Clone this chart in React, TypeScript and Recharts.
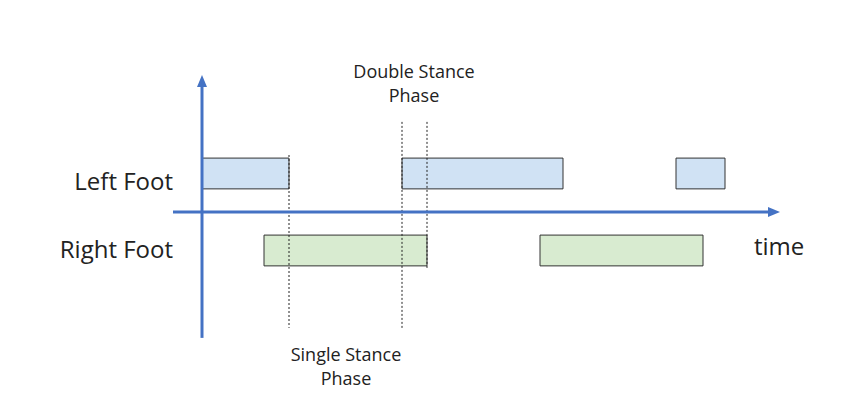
import { ComposedChart, XAxis, YAxis, ReferenceArea, ReferenceLine, ReferenceDot } from 'recharts'

// time units: 1 unit = 1px; lanes: +1 left foot, -1 right foot
const leftFoot = [[0, 87], [200, 361], [474, 523]]
const rightFoot = [[62, 225], [338, 501]]
const phaseLines = [
  { t: 87, from: 1.48, to: -3.01 },
  { t: 200, from: 2.34, to: -3.01 },
  { t: 225, from: 2.34, to: -1.5 },
]
const labels = [
  { t: -29, v: 0.75, text: 'Left Foot', size: 24, anchor: 'end' },
  { t: -29, v: -1.02, text: 'Right Foot', size: 24, anchor: 'end' },
  { t: 552, v: -0.95, text: 'time', size: 24, anchor: 'start' },
  { t: 212, v: 3.6, text: 'Double Stance', size: 18, anchor: 'middle' },
  { t: 212, v: 2.98, text: 'Phase', size: 18, anchor: 'middle' },
  { t: 144, v: -3.75, text: 'Single Stance', size: 18, anchor: 'middle' },
  { t: 144, v: -4.37, text: 'Phase', size: 18, anchor: 'middle' },
]
const axisColor = '#4472c4'
const font = 'Open Sans, Noto Sans, sans-serif'

const Arrow = ({ cx, cy, dir }: any) =>
  dir === 'up'
    ? <polygon points={`${cx},${cy} ${cx - 5},${cy + 12} ${cx + 5},${cy + 12}`} fill={axisColor} />
    : <polygon points={`${cx},${cy} ${cx - 12},${cy - 5} ${cx - 12},${cy + 5}`} fill={axisColor} />

export default function App() {
  return (
    <div style={{ position: 'absolute', left: 0, top: 0, background: '#fff' }}>
      <ComposedChart width={849} height={411} data={[]} margin={{ top: 0, right: 0, bottom: 0, left: 0 }}>
        <XAxis type="number" dataKey="t" domain={[-202, 647]} hide allowDataOverflow />
        <YAxis type="number" domain={[-5.169, 5.506]} hide allowDataOverflow />
        {leftFoot.map(([a, b], i) => (
          <ReferenceArea key={'l' + i} x1={a} x2={b} y1={0.6} y2={1.4} fill="#d0e2f4" fillOpacity={1} stroke="#333" strokeWidth={1} />
        ))}
        {rightFoot.map(([a, b], i) => (
          <ReferenceArea key={'r' + i} x1={a} x2={b} y1={-1.4} y2={-0.6} fill="#d8ebd0" fillOpacity={1} stroke="#333" strokeWidth={1} />
        ))}
        {phaseLines.map((p, i) => (
          <ReferenceLine key={'p' + i} segment={[{ x: p.t, y: p.from }, { x: p.t, y: p.to }]} stroke="#222" strokeDasharray="2 2" strokeWidth={1} />
        ))}
        <ReferenceLine segment={[{ x: 0, y: -3.27 }, { x: 0, y: 3.3 }]} stroke={axisColor} strokeWidth={3} />
        <ReferenceLine segment={[{ x: -29, y: 0 }, { x: 570, y: 0 }]} stroke={axisColor} strokeWidth={3} />
        <ReferenceDot x={0} y={3.56} shape={(p: any) => <Arrow {...p} dir="up" />} />
        <ReferenceDot x={578} y={0} shape={(p: any) => <Arrow {...p} dir="right" />} />
        {labels.map((l, i) => (
          <ReferenceDot key={'t' + i} x={l.t} y={l.v}
            shape={(p: any) => (
              <text x={p.cx} y={p.cy} textAnchor={l.anchor} fontSize={l.size} fontFamily={font} fill="#222" dominantBaseline="middle">{l.text}</text>
            )} />
        ))}
      </ComposedChart>
    </div>
  )
}
